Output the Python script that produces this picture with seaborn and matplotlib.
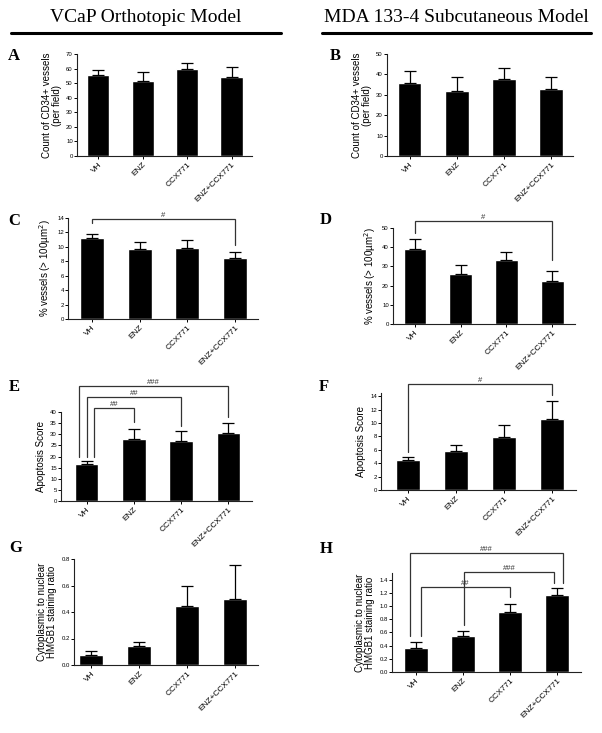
import numpy as np
import seaborn as sns
import matplotlib.pyplot as plt
from matplotlib.lines import Line2D

sns.set_style("ticks")
plt.rcParams["font.family"] = ["Liberation Sans", "DejaVu Sans"]
plt.rcParams["text.color"] = "black"
plt.rcParams["axes.labelcolor"] = "black"
plt.rcParams["xtick.color"] = "black"
plt.rcParams["ytick.color"] = "black"

W, H = 602, 733

groups = ["VH", "ENZ", "CCX771", "ENZ+CCX771"]

# mean and SEM
a_mean = [55.5, 51.8, 59.4, 53.9]
a_sem = [3.7, 6.0, 4.4, 7.1]
b_mean = [36.0, 31.9, 37.8, 32.7]
b_sem = [5.6, 6.9, 5.1, 5.8]
c_mean = [11.2, 9.7, 9.86, 8.5]
c_sem = [0.6, 1.0, 1.04, 0.8]
d_mean = [39.3, 25.8, 33.2, 22.3]
d_sem = [5.0, 5.0, 4.5, 5.4]
e_mean = [16.5, 27.7, 26.8, 30.7]
e_sem = [1.6, 4.8, 4.7, 4.5]
f_mean = [4.47, 5.86, 7.9, 10.58]
f_sem = [0.4, 0.89, 1.88, 2.78]
g_mean = [0.076, 0.141, 0.446, 0.496]
g_sem = [0.030, 0.035, 0.151, 0.257]
h_mean = [0.36, 0.552, 0.903, 1.174]
h_sem = [0.087, 0.07, 0.121, 0.096]

lab_count = "Count of CD34+ vessels\n(per field)"
lab_pct = "% vessels (> 100µm$^2$)"
lab_apop = "Apoptosis Score"
lab_hmgb = "Cytoplasmic to nuclear\nHMGB1 staining ratio"

# brackets: (x_left, x_right, y_top, y_left_end, y_right_end, text)
panels = [
    # letter, rect px (l, t, r, b), xlim, ylim, yticks, mean, sem, ylabel, brackets, letter pos
    ("A", (77, 54, 252, 156), (-0.48, 3.46), (0, 70), np.arange(0, 71, 10), a_mean, a_sem, lab_count, [], (8, 56)),
    ("B", (387, 54, 573, 156), (-0.48, 3.46), (0, 50), np.arange(0, 51, 10), b_mean, b_sem, lab_count, [], (330, 56)),
    ("C", (68, 218, 258, 319), (-0.5, 3.48), (0, 14), np.arange(0, 15, 2), c_mean, c_sem, lab_pct,
     [(0, 3, 13.9, 13.3, 10.3, "#")], (8, 221)),
    ("D", (393, 228, 575, 324), (-0.48, 3.5), (0, 50), np.arange(0, 51, 10), d_mean, d_sem, lab_pct,
     [(0, 3, 53.6, 47.4, 33.3, "#")], (320, 220)),
    ("E", (61, 412, 252, 501), (-0.54, 3.5), (0, 40), np.arange(0, 41, 5), e_mean, e_sem, lab_apop,
     [(0.16, 1, 41.8, 19.8, 35.5, "##"), (0.01, 2, 46.7, 19.8, 33.7, "##"),
      (-0.16, 3, 51.7, 19.8, 37.9, "###")], (9, 387)),
    ("F", (381, 393, 576, 490), (-0.56, 3.5), (0, 14.5), np.arange(0, 15, 2), f_mean, f_sem, lab_apop,
     [(0, 3, 15.8, 5.66, 14.2, "#")], (319, 387)),
    ("G", (74, 559, 258, 665), (-0.36, 3.48), (0, 0.8), np.arange(0, 0.81, 0.2), g_mean, g_sem, lab_hmgb, [], (9, 548)),
    ("H", (392, 573, 581, 672), (-0.51, 3.51), (0, 1.5), np.arange(0, 1.41, 0.2), h_mean, h_sem, lab_hmgb,
     [(0.11, 2, 1.295, 0.54, 1.13, "##"), (1.02, 2.94, 1.52, 0.71, 1.355, "###"),
      (-0.13, 3.13, 1.81, 0.54, 1.355, "###")], (320, 549)),
]

fig = plt.figure(figsize=(W / 100, H / 100), dpi=100)

for letter, (l, t, r, b), xlim, ylim, yticks, mean, sem, ylabel, brackets, (lx, ly) in panels:
    ax = fig.add_axes([l / W, 1 - b / H, (r - l) / W, (b - t) / H])
    sns.barplot(x=groups, y=mean, color="black", saturation=1, width=0.5, errorbar=None, ax=ax)
    ax.errorbar(range(4), mean, yerr=[[0] * 4, sem], fmt="none", ecolor="black",
                elinewidth=0.9, capsize=4.5, capthick=0.9)
    ax.set_xlim(*xlim)
    ax.set_ylim(*ylim)
    ax.set_yticks(yticks)
    if ylim[1] < 2:
        ax.set_yticklabels([f"{v:.1f}" for v in yticks])
    sns.despine(ax=ax)
    for s in ["left", "bottom"]:
        ax.spines[s].set_linewidth(0.8)
        ax.spines[s].set_color("#222222")
    ax.tick_params(axis="y", labelsize=4.3, length=2, width=0.7, pad=1)
    ax.tick_params(axis="x", labelsize=6, length=2.5, width=0.7, pad=1)
    plt.setp(ax.get_xticklabels(), rotation=45, ha="right", rotation_mode="anchor")
    ax.set_ylabel(ylabel, fontsize=7, labelpad=3, linespacing=1.0)
    ax.set_xlabel("")

    for x0, x1, ytop, yl, yr, txt in brackets:
        ax.plot([x0, x0, x1, x1], [yl, ytop, ytop, yr], color="#333333", lw=0.9,
                clip_on=False, solid_joinstyle="miter")
        ax.text((x0 + x1) / 2, ytop, txt, ha="center", va="bottom", fontsize=5.5, color="#333333")

    fig.text(lx / W, 1 - ly / H, letter, fontsize=12, fontweight="bold",
             family="Liberation Serif", ha="left", va="center")

# column titles with rules underneath
fig.text(146 / W, 1 - 17 / H, "VCaP Orthotopic Model", fontsize=14,
         family="Liberation Serif", ha="center", va="center")
fig.text(456 / W, 1 - 17 / H, "MDA 133-4 Subcutaneous Model", fontsize=14,
         family="Liberation Serif", ha="center", va="center")
fig.add_artist(Line2D([11 / W, 281 / W], [1 - 33 / H] * 2, color="black", lw=2.2, transform=fig.transFigure))
fig.add_artist(Line2D([322 / W, 591 / W], [1 - 33 / H] * 2, color="black", lw=2.2, transform=fig.transFigure))

fig.savefig("out.png", dpi=100, facecolor="white")
